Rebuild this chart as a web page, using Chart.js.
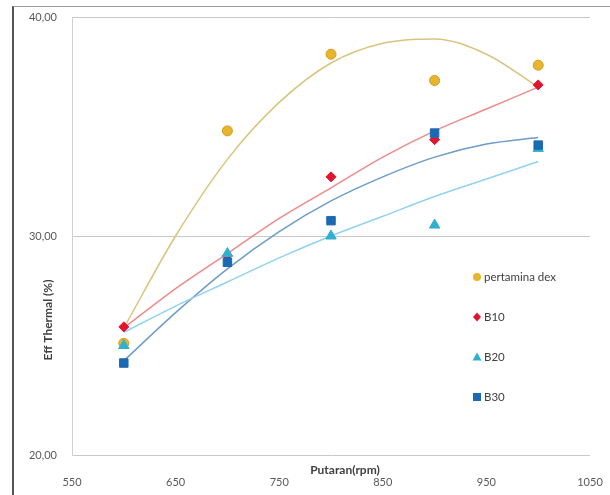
<!DOCTYPE html>
<html>
<head>
<meta charset="utf-8">
<script src="https://cdn.jsdelivr.net/npm/chart.js@4.4.1/dist/chart.umd.min.js"></script>
<style>
  html, body { margin: 0; padding: 0; background: #fff; overflow: hidden; }
  #wrap { position: relative; width: 610px; height: 495px; }
  #frame { position: absolute; left: 12px; top: 6px; right: 0; bottom: 0;
           border-left: 2px solid #555; border-top: 1px solid #999; pointer-events: none; }
  canvas { position: absolute; left: 0; top: 0; }
</style>
</head>
<body>
<div id="wrap">
  <canvas id="chart" width="610" height="495"></canvas>
  <div id="frame"></div>
</div>
<script>
// rpm values
const rpm = [600, 700, 800, 900, 1000];
const xTicks = [550, 650, 750, 850, 950, 1050];

// Eff Thermal (%) per fuel
const dex = [25.1, 34.8, 38.3, 37.1, 37.8];
const b10 = [25.85, 29.1, 32.7, 34.4, 36.9];
const b20 = [25.0, 29.2, 30.0, 30.5, 34.0];
const b30 = [24.2, 28.8, 30.7, 34.7, 34.15];

// trendlines (poly 2)
const trendX = [600, 650, 700, 750, 800, 850, 900, 950, 1000];
const dexTrend = [25.8, 30.0, 33.5, 36.1, 37.9, 38.8, 39.0, 38.3, 36.8];
const b10Trend = [25.8, 27.6, 29.2, 30.8, 32.2, 33.6, 34.8, 35.8, 36.8];
const b20Trend = [25.6, 26.8, 27.9, 29.0, 30.0, 30.9, 31.8, 32.6, 33.4];
const b30Trend = [24.3, 26.5, 28.5, 30.2, 31.6, 32.7, 33.6, 34.2, 34.5];

const FONT = 'Lato, "Open Sans", sans-serif';

function pts(xs, ys) {
    return xs.map((x, i) => ({ x, y: ys[i] }));
}

function marker(label, ys, style, color, border, radius, order) {
    return {
        label, data: pts(rpm, ys), showLine: false,
        pointStyle: style, pointRadius: radius, pointHoverRadius: radius,
        backgroundColor: color, borderColor: border, borderWidth: 1, order
    };
}

function trend(ys, color) {
    return {
        label: '', data: pts(trendX, ys), showLine: true,
        cubicInterpolationMode: 'monotone',
        borderColor: color, borderWidth: 1.5, pointRadius: 0, fill: false, order: 10
    };
}

// legend + axis titles drawn by hand, placed like the original
const extras = {
    id: 'extras',
    afterDraw(chart) {
        const ctx = chart.ctx;
        const a = chart.chartArea;
        ctx.save();

        // legend
        const lx = a.right - 113;
        const items = chart.data.datasets.filter(d => d.label);
        const ly = [277, 317, 357, 397];
        ctx.font = '11.5px ' + FONT;
        ctx.textBaseline = 'middle';
        items.forEach((d, i) => {
            const y = ly[i];
            ctx.fillStyle = d.backgroundColor;
            ctx.beginPath();
            if (d.pointStyle === 'circle') {
                ctx.arc(lx, y, 4, 0, Math.PI * 2);
            } else if (d.pointStyle === 'rectRot') {
                ctx.moveTo(lx, y - 4.5); ctx.lineTo(lx + 4, y); ctx.lineTo(lx, y + 4.5); ctx.lineTo(lx - 4, y);
                ctx.closePath();
            } else if (d.pointStyle === 'triangle') {
                ctx.moveTo(lx, y - 4.5); ctx.lineTo(lx + 4.5, y + 3.5); ctx.lineTo(lx - 4.5, y + 3.5);
                ctx.closePath();
            } else {
                ctx.rect(lx - 4, y - 4, 8, 8);
            }
            ctx.fill();
            ctx.fillStyle = '#404040';
            ctx.textAlign = 'left';
            ctx.fillText(d.label, lx + 7, y);
        });

        // x title with white box behind it (covers part of the 850 label like the source)
        ctx.font = 'bold 12px ' + FONT;
        const xt = 'Putaran(rpm)';
        const w = ctx.measureText(xt).width;
        const cx = a.left + 273;
        ctx.fillStyle = '#fff';
        ctx.fillRect(cx - w / 2 - 1, 463, w + 2, 14);
        ctx.fillStyle = '#404040';
        ctx.textAlign = 'center';
        ctx.fillText(xt, cx, 470);

        // y title
        ctx.translate(48, 320);
        ctx.rotate(-Math.PI / 2);
        ctx.fillText('Eff Thermal (%)', 0, 0);
        ctx.restore();
    }
};

new Chart(document.getElementById('chart'), {
    type: 'scatter',
    data: {
        datasets: [
            marker('pertamina dex', dex, 'circle', '#e8b62c', '#d49a1c', 5, 4),
            marker('B10', b10, 'rectRot', '#e3142f', '#e3142f', 5, 3),
            marker('B20', b20, 'triangle', '#2fb0cf', '#2fb0cf', 6, 2),
            marker('B30', b30, 'rect', '#1c69b3', '#1c69b3', 6, 1),
            trend(dexTrend, '#d8c47e'),
            trend(b10Trend, '#ef8a8a'),
            trend(b20Trend, '#8fd4ec'),
            trend(b30Trend, '#6d9cc8')
        ]
    },
    options: {
        responsive: false,
        animation: false,
        layout: { padding: { top: 17, right: 20, left: 0, bottom: 0 } },
        plugins: { legend: { display: false }, tooltip: { enabled: false } },
        scales: {
            x: {
                type: 'linear', min: 550, max: 1050,
                afterBuildTicks: s => { s.ticks = xTicks.map(v => ({ value: v })); },
                afterFit: s => { s.height = 40; s.paddingLeft = 0; s.paddingRight = 0; },
                grid: { display: false, drawTicks: false },
                border: { display: false },
                ticks: {
                    padding: 21, color: '#595959', font: { family: FONT, size: 11 },
                    callback: v => String(v)
                }
            },
            y: {
                min: 20, max: 40,
                afterFit: s => { s.width = 72; s.paddingTop = 0; s.paddingBottom = 0; },
                grid: { color: '#c8c8c8', drawTicks: false },
                border: { display: true, color: '#d0d0d0' },
                ticks: {
                    stepSize: 10, padding: 15, color: '#595959',
                    font: { family: FONT, size: 11 },
                    callback: v => v.toFixed(2).replace('.', ',')
                }
            }
        }
    },
    plugins: [extras]
});
</script>
</body>
</html>
